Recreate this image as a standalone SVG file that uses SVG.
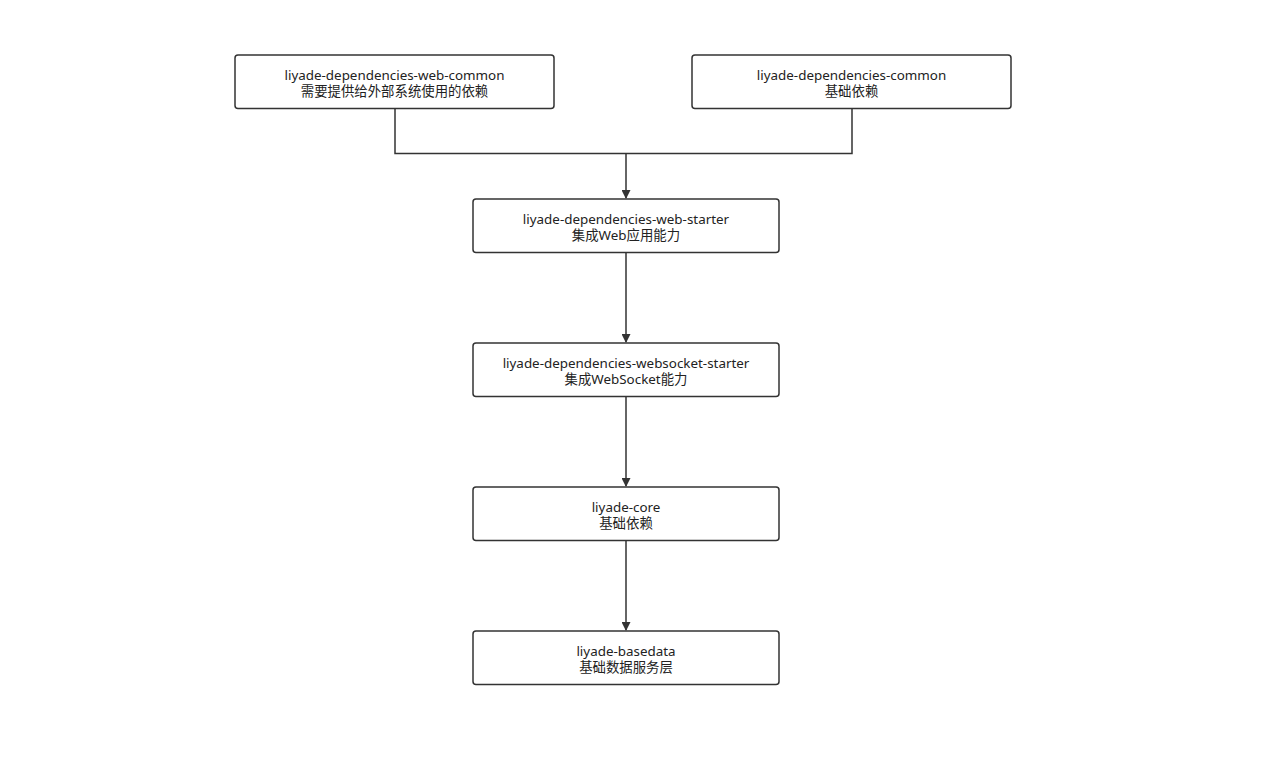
<svg xmlns="http://www.w3.org/2000/svg" width="1288" height="766" viewBox="0 0 1288 766">
<defs>
<style>
.node rect{fill:#fff;stroke:#333;stroke-width:1.5}
.node text{font-family:"Noto Sans","Noto Sans CJK SC",sans-serif;font-size:13.4px;fill:#222;text-anchor:middle}
.edge{fill:none;stroke:#333;stroke-width:1.5}
</style>
<marker id="arr" viewBox="0 0 10 10" refX="9" refY="5" markerWidth="12" markerHeight="9" markerUnits="userSpaceOnUse" orient="auto"><path d="M0,0 L10,5 L0,10 z" fill="#333"/></marker>
</defs>
<rect width="1288" height="766" fill="#fff"/>
<g id="connectors">
<path class="edge" d="M395,108.5 V153.5 H852 V108.5"/>
<path class="edge" d="M626,153.5 V198" marker-end="url(#arr)"/>
<path class="edge" d="M626,252.5 V342" marker-end="url(#arr)"/>
<path class="edge" d="M626,396.5 V486" marker-end="url(#arr)"/>
<path class="edge" d="M626,540.5 V630" marker-end="url(#arr)"/>
</g>
<g id="web-common" class="node"><rect x="235" y="55" width="319" height="53.5" rx="3"/><text x="394.5" y="80">liyade-dependencies-web-common</text><text x="394.5" y="96">需要提供给外部系统使用的依赖</text></g>
<g id="common" class="node"><rect x="692" y="55" width="319" height="53.5" rx="3"/><text x="851.5" y="80">liyade-dependencies-common</text><text x="851.5" y="96">基础依赖</text></g>
<g id="web-starter" class="node"><rect x="473" y="199" width="306" height="53.5" rx="3"/><text x="626" y="224">liyade-dependencies-web-starter</text><text x="626" y="240">集成Web应用能力</text></g>
<g id="websocket-starter" class="node"><rect x="473" y="343" width="306" height="53.5" rx="3"/><text x="626" y="368">liyade-dependencies-websocket-starter</text><text x="626" y="384">集成WebSocket能力</text></g>
<g id="core" class="node"><rect x="473" y="487" width="306" height="53.5" rx="3"/><text x="626" y="512">liyade-core</text><text x="626" y="528">基础依赖</text></g>
<g id="basedata" class="node"><rect x="473" y="631" width="306" height="53.5" rx="3"/><text x="626" y="656">liyade-basedata</text><text x="626" y="672">基础数据服务层</text></g>
</svg>
